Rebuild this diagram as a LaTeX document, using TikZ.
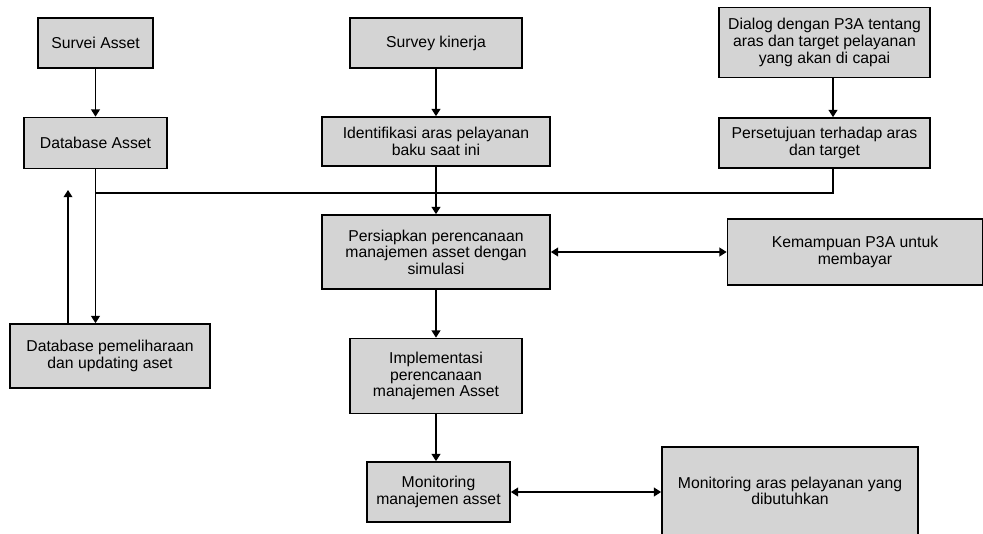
\documentclass[tikz,border=0pt]{standalone}
\usepackage{fontspec}
\setsansfont{Liberation Sans}
\usetikzlibrary{positioning, calc, arrows.meta}

\begin{document}
\begin{tikzpicture}[
        x=0.025cm, y=-0.025cm,
        blok/.style={draw, line width=1.2pt, fill=black!17, align=center, inner sep=2pt,
                     font=\sffamily\fontsize{11.2}{11.8}\selectfont},
        garis/.style={line width=0.9pt},
        panah/.style={garis, -{Triangle[length=1.8mm, width=2.2mm]}},
        dua/.style={garis, {Triangle[length=1.8mm, width=2.2mm]}-{Triangle[length=1.8mm, width=2.2mm]}},
    ]
    \useasboundingbox (0,0) rectangle (983,533);

    % Left column
    \node[blok, minimum width=2.875cm, minimum height=1.25cm] (survei) at (95.5,43) {Survei Asset};
    \node[blok, minimum width=3.575cm, minimum height=1.275cm] (dbasset) at (95.5,143) {Database Asset};
    \node[blok, minimum width=5cm, minimum height=1.6cm] (pelihara) at (110,356)
        {Database pemeliharaan\\dan updating aset};

    % Middle column
    \node[blok, minimum width=4.3cm, minimum height=1.25cm] (kinerja) at (436,43) {Survey kinerja};
    \node[blok, minimum width=5.7cm, minimum height=1.225cm] (identif) at (436,141.5)
        {Identifikasi aras pelayanan\\baku saat ini};
    \node[blok, minimum width=5.7cm, minimum height=1.85cm] (siap) at (436,252)
        {Persiapkan perencanaan\\manajemen asset dengan\\simulasi};
    \node[blok, minimum width=4.3cm, minimum height=1.875cm] (implement) at (436,376)
        {Implementasi\\perencanaan\\manajemen Asset};
    \node[blok, minimum width=3.575cm, minimum height=1.5cm] (monit) at (438.5,492)
        {Monitoring\\manajemen asset};

    % Right column
    \node[blok, minimum width=5.275cm, minimum height=1.75cm] (dialog) at (824.5,42.5)
        {Dialog dengan P3A tentang\\aras dan target pelayanan\\yang akan di capai};
    \node[blok, minimum width=5.275cm, minimum height=1.25cm] (setuju) at (824.5,143)
        {Persetujuan terhadap aras\\dan target};
    \node[blok, minimum width=6.375cm, minimum height=1.65cm] (mampu) at (855,252)
        {Kemampuan P3A untuk\\membayar};
    \node[blok, minimum width=6.4cm, minimum height=2.2cm] (monaras) at (790,491)
        {Monitoring aras pelayanan yang\\dibutuhkan};

    % Helper points
    \coordinate (bus) at (0,193);
    \coordinate (balik) at (68,190);
    \coordinate (kanan) at (833,0);

    % Connectors
    \draw[panah] (survei) -- (dbasset);
    \draw[panah] (kinerja) -- (identif);
    \draw[panah] (dialog.south -| kanan) -- (setuju.north -| kanan);
    \draw[garis] (setuju.south -| kanan) |- (dbasset.south |- bus);
    \draw[panah] (identif) -- (siap);
    \draw[panah] (dbasset.south) -- (dbasset.south |- pelihara.north);
    \draw[panah] (pelihara.north -| balik) -- (balik);
    \draw[dua] (siap) -- (mampu);
    \draw[panah] (siap) -- (implement);
    \draw[panah] (implement.south) -- (implement.south |- monit.north);
    \draw[dua] (monit.east) -- (monit.east -| monaras.west);
\end{tikzpicture}
\end{document}
